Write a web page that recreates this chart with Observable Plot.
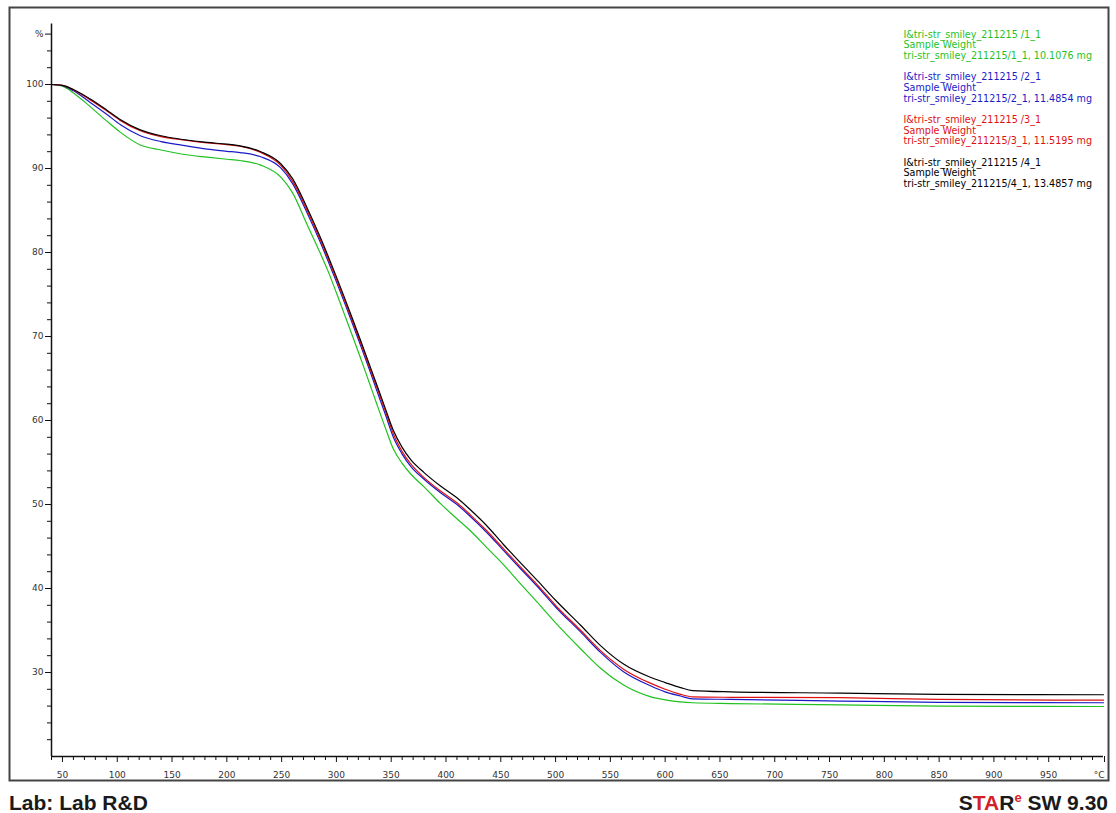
<!DOCTYPE html>
<html>
<head>
<meta charset="utf-8">
<script src="https://cdn.jsdelivr.net/npm/d3@7"></script>
<script src="https://cdn.jsdelivr.net/npm/@observablehq/plot@0.6"></script>
<style>
  html, body { margin: 0; padding: 0; background: #fff; }
  #wrap { position: relative; width: 1116px; height: 813px; overflow: hidden; background: #fff; }
  #chart { position: absolute; left: 0; top: 0; }
  .foot { position: absolute; top: 792px; font: bold 21px "Liberation Sans", Arial, sans-serif; line-height: 21px; color: #1a1a1a; white-space: nowrap; }
  #lab { left: 9px; }
  #star { right: 8px; }
  #star .r { color: #d41f26; }
  #star sup { font-size: 13px; line-height: 0; vertical-align: 8px; color: #d41f26; }
</style>
</head>
<body>
<div id="wrap">
  <div id="chart"></div>
  <div class="foot" id="lab"></div>
  <div class="foot" id="star"><span>S</span><span class="r">TA</span><span>R</span><sup>e</sup><span> SW 9.30</span></div>
</div>
<script>
// ---- Data ----
const temps = [40, 50, 60, 75, 90, 103, 121, 140, 160, 182, 200, 212, 231, 249, 260, 273, 285, 292, 300, 307, 315, 322, 330, 337, 345, 352, 360, 368, 380, 395, 410, 422, 437, 452, 467, 483, 500, 523, 541, 562, 587, 600, 614, 625, 660, 760, 850, 1000];

const sample1 = [100.0, 99.8, 99.0, 97.4, 95.7, 94.3, 92.8, 92.2, 91.7, 91.35, 91.1, 90.95, 90.4, 89.0, 87.1, 83.4, 80.0, 77.9, 75.2, 72.75, 69.95, 67.45, 64.5, 61.9, 59.0, 56.6, 54.9, 53.6, 52.1, 50.1, 48.3, 46.9, 44.9, 42.9, 40.7, 38.4, 35.9, 32.8, 30.5, 28.5, 27.1, 26.75, 26.5, 26.4, 26.3, 26.15, 26.0, 25.95];
const sample2 = [100.0, 99.85, 99.25, 97.9, 96.5, 95.2, 93.9, 93.2, 92.75, 92.3, 92.05, 91.9, 91.4, 90.1, 88.2, 84.8, 81.3, 79.1, 76.5, 74.15, 71.4, 68.95, 66.1, 63.5, 60.6, 58.0, 56.0, 54.5, 53.0, 51.4, 50.0, 48.6, 46.7, 44.6, 42.5, 40.3, 37.8, 34.8, 32.4, 30.1, 28.4, 27.7, 27.2, 26.85, 26.8, 26.6, 26.45, 26.4];
const sample3 = [100.0, 99.9, 99.35, 98.2, 96.9, 95.7, 94.5, 93.8, 93.4, 93.05, 92.85, 92.65, 91.9, 90.4, 88.5, 85.1, 81.6, 79.4, 76.8, 74.45, 71.7, 69.25, 66.4, 63.9, 61.0, 58.4, 56.3, 54.8, 53.2, 51.6, 50.2, 48.8, 46.9, 44.8, 42.7, 40.5, 38.0, 35.0, 32.6, 30.4, 28.7, 28.0, 27.4, 27.1, 27.05, 27.0, 26.8, 26.7];
const sample4 = [100.0, 99.9, 99.4, 98.3, 97.0, 95.8, 94.6, 93.9, 93.45, 93.1, 92.9, 92.7, 92.0, 90.6, 88.8, 85.4, 81.9, 79.7, 77.1, 74.75, 72.0, 69.55, 66.7, 64.2, 61.3, 58.8, 56.8, 55.3, 53.8, 52.2, 50.8, 49.4, 47.5, 45.3, 43.2, 41.0, 38.6, 35.6, 33.2, 31.0, 29.4, 28.8, 28.2, 27.85, 27.7, 27.55, 27.4, 27.35];

const seriesNames = ["1_1", "2_1", "3_1", "4_1"];
const seriesColors = ["#1fc21f", "#1a1ac8", "#e01010", "#000000"];
const legendTitles = ["I&tri-str_smiley_211215 /1_1", "I&tri-str_smiley_211215 /2_1", "I&tri-str_smiley_211215 /3_1", "I&tri-str_smiley_211215 /4_1"];
const legendSub = "Sample Weight";
const legendMass = ["tri-str_smiley_211215/1_1, 10.1076 mg", "tri-str_smiley_211215/2_1, 11.4854 mg", "tri-str_smiley_211215/3_1, 11.5195 mg", "tri-str_smiley_211215/4_1, 13.4857 mg"];

const xMajor = [50, 100, 150, 200, 250, 300, 350, 400, 450, 500, 550, 600, 650, 700, 750, 800, 850, 900, 950];
const xEnd = [1000];
const xMinor = [40, 60, 70, 80, 90, 110, 120, 130, 140, 160, 170, 180, 190, 210, 220, 230, 240, 260, 270, 280, 290, 310, 320, 330, 340, 360, 370, 380, 390, 410, 420, 430, 440, 460, 470, 480, 490, 510, 520, 530, 540, 560, 570, 580, 590, 610, 620, 630, 640, 660, 670, 680, 690, 710, 720, 730, 740, 760, 770, 780, 790, 810, 820, 830, 840, 860, 870, 880, 890, 910, 920, 930, 940, 960, 970, 980, 990];
const yMajor = [30, 40, 50, 60, 70, 80, 90, 100, 106];
const yMinor = [22, 24, 26, 28, 32, 34, 36, 38, 42, 44, 46, 48, 52, 54, 56, 58, 62, 64, 66, 68, 72, 74, 76, 78, 82, 84, 86, 88, 92, 94, 96, 98, 102, 104];
const xUnit = "°C";
const yUnit = "%";
const labText = "Lab: Lab R&D";

// ---- Build tidy table ----
const allSeries = [sample1, sample2, sample3, sample4];
const rows = [];
allSeries.forEach((vals, i) => {
  vals.forEach((v, j) => rows.push({T: temps[j], w: v, s: seriesNames[i]}));
});

document.getElementById("lab").textContent = labText;

const W = 1116, H = 784;
const mL = 51, mR = 13, mT = 25.2, mB = 28;

const legendMarks = legendTitles.map((t, i) =>
  Plot.text([t + "\n" + legendSub + "\n" + legendMass[i]], {
    text: d => d,
    frameAnchor: "top-left",
    dx: 852,
    dy: 4.5 + i * 42.7,
    lineAnchor: "top",
    textAnchor: "start",
    lineHeight: 1.1,
    fontSize: 9.6,
    fill: seriesColors[i]
  })
);

const chart = Plot.plot({
  width: W,
  height: H,
  marginLeft: mL,
  marginRight: mR,
  marginTop: mT,
  marginBottom: mB,
  style: {fontFamily: "'DejaVu Sans', Tahoma, sans-serif", fontSize: "9px", color: "#333", background: "white", overflow: "visible"},
  x: {domain: [40, 1000], label: null},
  y: {domain: [20, 107], label: null},
  color: {domain: seriesNames, range: seriesColors},
  marks: [
    Plot.frame({stroke: "#444", strokeWidth: 2, insetLeft: -42, insetTop: -18.2, insetRight: -5, insetBottom: -24}),
    Plot.axisX(xMinor, {tickSize: 4, tickFormat: () => "", stroke: "#111", label: null}),
    Plot.axisX(xMajor, {tickSize: 6, tickPadding: 9, stroke: "#111", fill: "#333", label: null, tickFormat: d => String(d)}),
    Plot.axisX(xEnd, {tickSize: 6, tickPadding: 9, stroke: "#111", fill: "#333", label: null, textAnchor: "end", dx: 1, tickFormat: () => xUnit}),
    Plot.axisY(yMinor, {tickSize: 4, tickFormat: () => "", stroke: "#111", label: null}),
    Plot.axisY(yMajor, {tickSize: 6, tickPadding: 2, stroke: "#111", fill: "#333", label: null, tickFormat: d => d === 106 ? yUnit : String(d)}),
    Plot.ruleX([40], {y1: 20, y2: 107.2, stroke: "#111", strokeWidth: 1.5}),
    Plot.ruleY([20], {x1: 40, x2: 1000, stroke: "#111", strokeWidth: 1.5}),
    Plot.line(rows, {x: "T", y: "w", z: "s", stroke: "s", strokeWidth: 1.2, curve: "monotone-x"}),
    ...legendMarks
  ]
});
document.getElementById("chart").appendChild(chart);
</script>
</body>
</html>
